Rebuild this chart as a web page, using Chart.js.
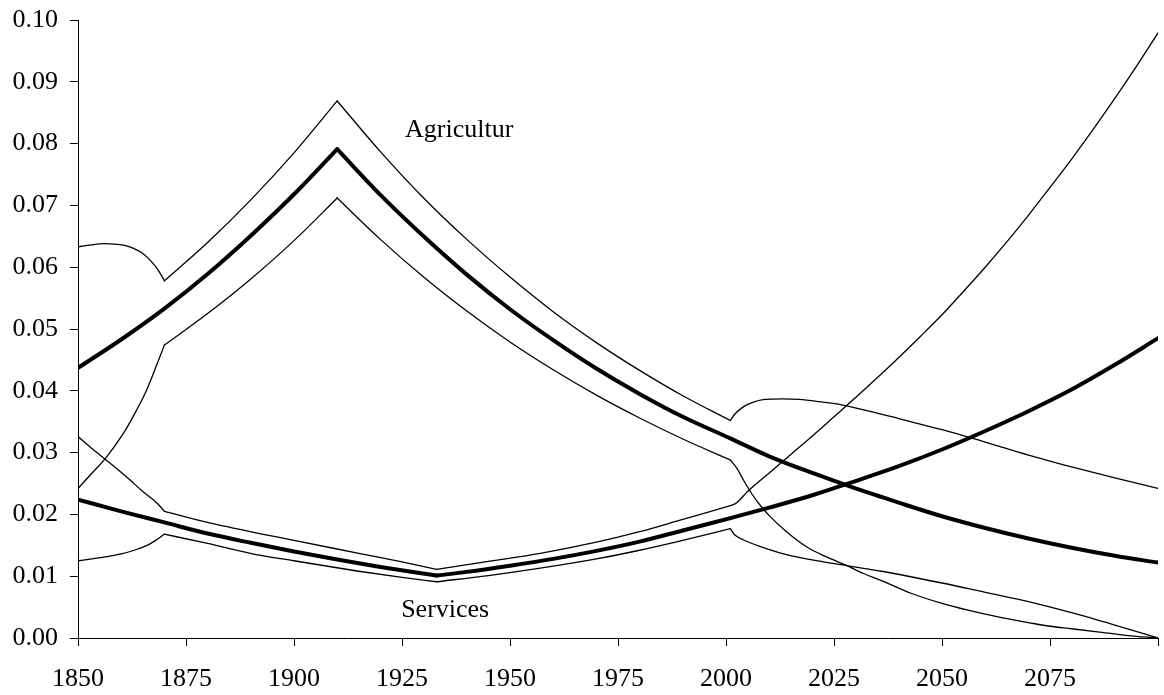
<!DOCTYPE html>
<html>
<head>
<meta charset="utf-8">
<title>Agriculture and services</title>
<script src="https://cdn.jsdelivr.net/npm/chart.js@4/dist/chart.umd.min.js"></script>
<style>
  html, body { margin: 0; padding: 0; background: #fff; }
  canvas { display: block; }
</style>
</head>
<body>
<canvas id="chart" width="1164" height="695"></canvas>
<script>
// Values (year -> share)
const agriYears = [1850, 1860, 1870, 1880, 1890, 1900, 1910, 1920, 1930, 1940, 1950, 1960, 1970, 1980, 1990, 2001, 2010, 2020, 2030, 2040, 2050, 2060, 2070, 2080, 2090, 2100];
const agriValues = [0.0437, 0.0483, 0.0533, 0.0589, 0.0651, 0.0718, 0.0791, 0.0717, 0.0650, 0.0588, 0.0532, 0.0482, 0.0436, 0.0395, 0.0358, 0.0323, 0.0294, 0.0267, 0.0242, 0.0219, 0.0197, 0.0178, 0.0161, 0.0146, 0.0133, 0.0122];
const agriBreaks = [1910];

const agriUpperYears = [1850, 1853, 1856, 1859, 1861, 1863, 1865, 1867, 1868.6, 1870, 1880, 1890, 1900, 1910, 1920, 1930, 1940, 1950, 1960, 1970, 1980, 1990, 2001, 2002, 2004, 2006, 2009, 2013, 2017, 2021, 2027, 2035, 2040, 2050, 2060, 2070, 2080, 2090, 2100];
const agriUpperValues = [0.0633, 0.0636, 0.0638, 0.0637, 0.0635, 0.0630, 0.0622, 0.0609, 0.0595, 0.0578, 0.0640, 0.0709, 0.0785, 0.0869, 0.0787, 0.0712, 0.0645, 0.0584, 0.0528, 0.0478, 0.0433, 0.0392, 0.0352, 0.0362, 0.0374, 0.0381, 0.0386, 0.0387, 0.0386, 0.0383, 0.0377, 0.0364, 0.0355, 0.0337, 0.0317, 0.0296, 0.0277, 0.0259, 0.0242];
const agriUpperBreaks = [1870, 1910, 2001];

const agriLowerYears = [1850, 1853, 1856.5, 1860.5, 1863.5, 1866, 1868, 1869, 1870, 1880, 1890, 1900, 1910, 1920, 1930, 1940, 1950, 1960, 1970, 1980, 1990, 2001, 2002.5, 2004, 2006, 2008, 2010, 2014, 2019, 2023, 2028, 2032, 2036, 2043, 2050, 2056, 2063, 2070, 2075, 2080, 2086, 2093, 2100];
const agriLowerValues = [0.0242, 0.0265, 0.0292, 0.0331, 0.0368, 0.0403, 0.0438, 0.0456, 0.0474, 0.0525, 0.0581, 0.0643, 0.0712, 0.0645, 0.0584, 0.0529, 0.0479, 0.0434, 0.0393, 0.0356, 0.0322, 0.0288, 0.0275, 0.0256, 0.0233, 0.0214, 0.0198, 0.0172, 0.0146, 0.0132, 0.0117, 0.0104, 0.0093, 0.0072, 0.0056, 0.0045, 0.0034, 0.0025, 0.0019, 0.0015, 0.0010, 0.0004, 0.0000];
const agriLowerBreaks = [1870, 1910, 2001];

const servYears = [1850, 1860, 1870, 1880, 1890, 1900, 1910, 1920, 1933, 1940, 1950, 1960, 1970, 1980, 1990, 2001, 2010, 2020, 2030, 2040, 2050, 2060, 2070, 2080, 2090, 2100];
const servValues = [0.0224, 0.0205, 0.0187, 0.0169, 0.0154, 0.0140, 0.0127, 0.0115, 0.0101, 0.0107, 0.0117, 0.0128, 0.0141, 0.0156, 0.0174, 0.0194, 0.0211, 0.0231, 0.0254, 0.0278, 0.0305, 0.0335, 0.0367, 0.0402, 0.0442, 0.0485];
const servBreaks = [1933, 2001];

const servUpperYears = [1850, 1853, 1856, 1859, 1862, 1865, 1867, 1868.6, 1870, 1880, 1892, 1900, 1915, 1925, 1933, 1945, 1957, 1970, 1980, 1990, 2001, 2002.5, 2005, 2010, 2015, 2020, 2025, 2030, 2035, 2040, 2045, 2050, 2055, 2060, 2065, 2070, 2075, 2080, 2085, 2090, 2095, 2100];
const servUpperValues = [0.0326, 0.0308, 0.0291, 0.0274, 0.0256, 0.0237, 0.0226, 0.0216, 0.0205, 0.0187, 0.0169, 0.0158, 0.0137, 0.0123, 0.0111, 0.0124, 0.0137, 0.0155, 0.0172, 0.0192, 0.0214, 0.0219, 0.0237, 0.0267, 0.0297, 0.0327, 0.0358, 0.0389, 0.0421, 0.0454, 0.0488, 0.0523, 0.0561, 0.0600, 0.0641, 0.0684, 0.0729, 0.0775, 0.0823, 0.0873, 0.0925, 0.0979];
const servUpperBreaks = [1870, 1933, 2001];

const servLowerYears = [1850, 1856, 1860, 1863, 1866, 1868, 1870, 1880, 1892, 1900, 1915, 1925, 1933, 1945, 1957, 1970, 1980, 1990, 2001, 2002, 2004, 2008, 2014, 2022, 2028, 2036, 2050, 2060, 2070, 2080, 2090, 2100];
const servLowerValues = [0.0125, 0.0131, 0.0136, 0.0142, 0.0150, 0.0158, 0.0168, 0.0153, 0.0134, 0.0125, 0.0108, 0.0098, 0.0091, 0.0101, 0.0113, 0.0128, 0.0142, 0.0158, 0.0177, 0.0167, 0.0159, 0.0148, 0.0135, 0.0124, 0.0117, 0.0108, 0.0089, 0.0074, 0.0059, 0.0041, 0.0021, 0.0000];
const servLowerBreaks = [1870, 1933, 2001];

// Text placed next to the curves
const curveLabels = ['Agricultur', 'Services'];
const labelYears = [1925.7, 1924.8];
const labelValues = [0.0811, 0.0034];

const FONT = '"Liberation Serif", "Times New Roman", serif';
const THIN = 1.3;
const THICK = 4;

// Pair a year list with a value list and cut it at the kinks,
// so each smooth piece keeps its own curve and the corners stay sharp
function toPieces(years, values, breaks) {
  const pieces = [[]];
  years.forEach((year, i) => {
    const point = { x: year, y: values[i] };
    pieces[pieces.length - 1].push(point);
    if (breaks.includes(year) && i < years.length - 1) {
      pieces.push([point]);
    }
  });
  return pieces;
}

function lineSets(years, values, breaks, width) {
  return toPieces(years, values, breaks).map(piece => ({
    data: piece,
    borderColor: '#000',
    borderWidth: width,
    pointRadius: 0,
    cubicInterpolationMode: 'monotone',
    fill: false,
    borderCapStyle: 'round',
    borderJoinStyle: 'round'
  }));
}

// Draws the curve names as plain text at data positions
const curveLabelPlugin = {
  id: 'curveLabels',
  afterDatasetsDraw(chart) {
    const { ctx, scales } = chart;
    ctx.save();
    ctx.font = '26px ' + FONT;
    ctx.fillStyle = '#000';
    ctx.textAlign = 'left';
    ctx.textBaseline = 'alphabetic';
    curveLabels.forEach((text, i) => {
      ctx.fillText(text, scales.x.getPixelForValue(labelYears[i]), scales.y.getPixelForValue(labelValues[i]));
    });
    ctx.restore();
  }
};

new Chart(document.getElementById('chart'), {
  type: 'line',
  data: {
    datasets: [
      ...lineSets(agriUpperYears, agriUpperValues, agriUpperBreaks, THIN),
      ...lineSets(agriLowerYears, agriLowerValues, agriLowerBreaks, THIN),
      ...lineSets(servUpperYears, servUpperValues, servUpperBreaks, THIN),
      ...lineSets(servLowerYears, servLowerValues, servLowerBreaks, THIN),
      ...lineSets(agriYears, agriValues, agriBreaks, THICK),
      ...lineSets(servYears, servValues, servBreaks, THICK)
    ]
  },
  options: {
    responsive: false,
    animation: false,
    layout: { padding: { top: 20, right: 6, bottom: 0, left: 0 } },
    plugins: {
      legend: { display: false },
      tooltip: { enabled: false }
    },
    scales: {
      x: {
        type: 'linear',
        min: 1850,
        max: 2100,
        afterFit: (scale) => {
          scale.height = 57;
          scale.paddingLeft = 0;
          scale.paddingRight = 0;
        },
        border: { color: '#000', width: 1 },
        grid: { drawOnChartArea: false, color: '#000', tickLength: 8 },
        ticks: {
          stepSize: 25,
          color: '#000',
          padding: 18,
          maxRotation: 0,
          font: { family: FONT, size: 26 },
          callback: (value) => (value === 2100 ? '' : String(value))
        }
      },
      y: {
        min: 0,
        max: 0.1,
        afterFit: (scale) => {
          scale.width = 78;
          scale.paddingTop = 0;
          scale.paddingBottom = 0;
        },
        border: { color: '#000', width: 1 },
        grid: { drawOnChartArea: false, color: '#000', tickLength: 8 },
        ticks: {
          stepSize: 0.01,
          color: '#000',
          padding: 12,
          font: { family: FONT, size: 26 },
          callback: (value) => value.toFixed(2)
        }
      }
    }
  },
  plugins: [curveLabelPlugin]
});
</script>
</body>
</html>
